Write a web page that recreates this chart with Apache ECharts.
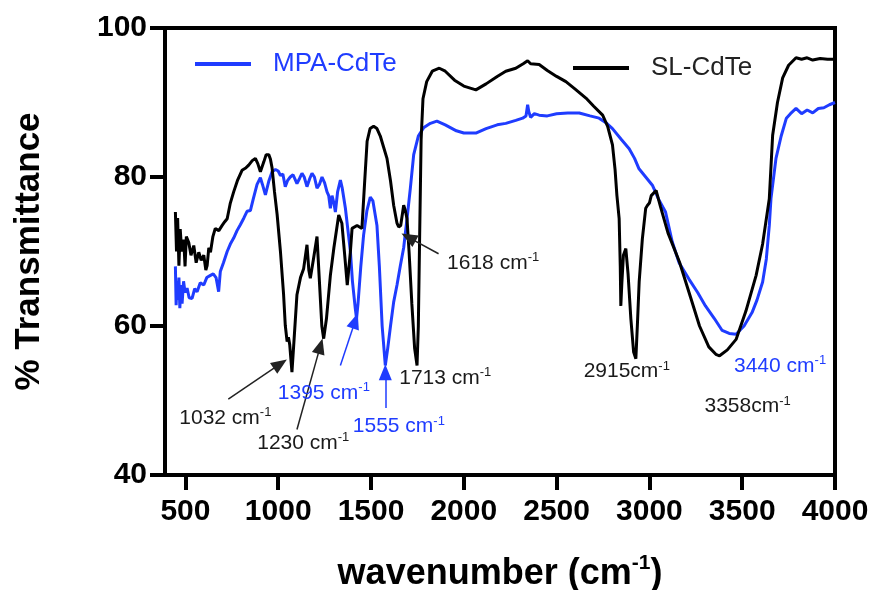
<!DOCTYPE html>
<html><head><meta charset="utf-8">
<script src="https://cdn.jsdelivr.net/npm/echarts@6/dist/echarts.min.js"></script>
<style>html,body{margin:0;padding:0;background:#fff}#c{width:874px;height:590px}</style>
</head><body><div id="c"></div>
<script>
// ---- data ----
const xTickValues = [500,1000,1500,2000,2500,3000,3500,4000];
const yTickValues = [40,60,80,100];
const seriesNames = ['MPA-CdTe','SL-CdTe'];

const mpaPoints = [[446,68],[450,62.8],[455,66],[460,63.5],[465,66.5],[470,62.4],[476,65.5],[482,63],[490,66],[498,64.5],[509,65.1],[520,63.8],[536,63.7],[550,65],[563,64.6],[580,65.8],[599,65.5],[615,66.5],[635,66.8],[650,67],[665,66.5],[679,64.6],[688,67.3],[705,68.5],[725,70.0],[742,71],[760,71.8],[778,72.8],[796,73.6],[815,74.5],[832,75.4],[850,75.5],[865,77],[886,79.0],[904,79.9],[915,79],[931,77.6],[950,79.5],[967,80.7],[985,81.0],[1000,80.8],[1012,80.2],[1025,80.4],[1038,78.7],[1050,79.5],[1065,80.0],[1080,80.3],[1101,79.1],[1115,79.8],[1128,80.5],[1140,80],[1155,78.7],[1170,79.8],[1182,80.5],[1195,80],[1209,78.5],[1222,79],[1236,80.0],[1250,79.2],[1263,78.0],[1272,77.5],[1281,75.8],[1290,77.5],[1300,76.5],[1308,75.3],[1320,78],[1335,79.6],[1345,78.5],[1362,75.8],[1375,73],[1389,70.0],[1400,66],[1415,62.4],[1422,61],[1430,63],[1445,68],[1460,72.2],[1478,75.5],[1496,77.3],[1510,76.8],[1532,73.5],[1545,68],[1560,60],[1577,54.7],[1590,57],[1605,60],[1622,63.2],[1640,65.5],[1658,68.1],[1676,70.5],[1694,74.4],[1712,78.5],[1730,83.0],[1755,85.5],[1783,86.6],[1820,87.2],[1855,87.5],[1900,87],[1960,86.2],[2000,85.9],[2065,85.9],[2120,86.5],[2180,87],[2226,87.2],[2280,87.6],[2317,87.9],[2335,88.2],[2344,89.7],[2350,88.8],[2360,88],[2380,88.5],[2406,88.3],[2450,88.2],[2500,88.5],[2560,88.6],[2622,88.6],[2680,88.2],[2729,87.9],[2770,87.2],[2801,86.5],[2850,85],[2891,83.8],[2920,82.5],[2944,81.1],[2980,80],[3016,78.9],[3050,77],[3087,75.3],[3123,71.3],[3160,68.5],[3213,66.3],[3260,64.5],[3302,62.7],[3350,61],[3392,59.4],[3430,59],[3467,58.9],[3510,60],[3553,61.8],[3580,63.5],[3610,65.9],[3630,69],[3646,73.5],[3655,77.1],[3682,82.5],[3710,85.5],[3738,87.9],[3760,88.5],[3790,89.2],[3820,88.5],[3850,89],[3880,88.6],[3910,89.2],[3940,89.3],[3970,89.7],[4000,90.0]];

const slPoints = [[446,75.3],[452,70],[458,74.5],[465,68.1],[472,73],[480,70],[491,71.6],[498,68],[505,72],[518,71.2],[530,69.5],[545,70.8],[558,68.5],[572,69.9],[585,68.8],[599,69.5],[610,67.5],[617,68.1],[626,70.5],[635,69.9],[648,72],[661,73.1],[680,72.8],[698,73.5],[712,74],[725,74.4],[742,76.5],[760,78.0],[780,79.5],[805,80.9],[825,81.2],[841,81.6],[860,82.2],[877,82.5],[890,81.8],[904,80.7],[915,81.5],[922,82],[935,83],[949,83.0],[958,82.4],[967,81.2],[980,78],[994,75.0],[1012,70],[1029,64.2],[1038,60.1],[1048,57.9],[1055,58.5],[1062,57.5],[1074,53.8],[1085,58],[1101,64.2],[1120,66.5],[1137,67.7],[1155,70.9],[1165,67.5],[1173,66.4],[1190,69],[1209,72.0],[1222,66],[1235,60],[1245,58.3],[1260,61],[1281,66.8],[1300,70.5],[1326,74.9],[1343,73.8],[1360,69],[1372,65.5],[1380,65.3],[1389,70],[1398,73.1],[1425,73.5],[1451,73.1],[1465,79],[1479,84.8],[1495,86.5],[1514,86.8],[1532,86.5],[1550,85.5],[1568,84],[1586,82.5],[1605,79.5],[1622,76.2],[1640,73.8],[1649,73.3],[1660,73.5],[1676,76.2],[1685,75.5],[1694,74.4],[1705,70],[1720,63],[1735,57],[1748,54.7],[1755,60],[1762,72],[1770,85],[1780,90.5],[1800,92.8],[1830,94.2],[1868,94.6],[1900,94.2],[1950,93],[2000,92.2],[2065,91.7],[2120,92.5],[2180,93.5],[2226,94.2],[2280,94.6],[2320,95.2],[2344,95.6],[2360,95.2],[2406,95.1],[2450,94.3],[2500,93.5],[2550,92.8],[2600,91.8],[2658,90.6],[2700,89.5],[2748,88.3],[2775,86.8],[2801,84.3],[2815,81],[2825,77.5],[2837,74.4],[2843,68],[2846,62.7],[2852,66],[2860,69.5],[2873,70.4],[2885,67],[2900,61],[2915,56.5],[2927,55.6],[2935,60],[2945,66],[2962,71.7],[2980,75.8],[2990,76.2],[3000,76.5],[3010,77.5],[3036,78.2],[3060,76],[3100,72.5],[3162,68.6],[3220,64],[3270,60.0],[3320,57.2],[3358,56.2],[3378,56.0],[3420,56.8],[3467,58.2],[3520,62],[3575,66.8],[3610,71],[3646,77.1],[3664,85.6],[3690,90],[3718,93.3],[3750,95],[3790,96.0],[3820,95.8],[3850,96],[3880,95.7],[3920,95.9],[3960,95.8],[4000,95.8]];

// peak annotations: label number, text anchor [wavenumber, %T], no-space flag
const slNotes  = [['1032',[715,47.6]],['1230',[1135,44.3]],['1713',[1900,53.0]],['1618',[2158,68.4]],['2915',[2878,53.9],true],['3358',[3529,49.2],true]];
const mpaNotes = [['1395',[1246,51.0]],['1555',[1650,46.5]],['3440',[3704,54.6]]];
// arrows: [from, to] in data units
const slArrows  = [[[731,50.2],[1011,54.9]],[[1101,46.1],[1227,57.3]],[[1864,69.7],[1702,71.9]]];
const mpaArrows = [[[1335,54.7],[1415,60.7]],[[1577,49.0],[1577,53.8]]];

// ---- chart ----
const BLUE = '#1f3cff', BLACK = '#000', TXT = '#1a1a1a';
const FONT = '"Liberation Sans", Arial, Helvetica, sans-serif';
const chart = echarts.init(document.getElementById('c'), null, {renderer:'canvas'});

function noteRich(color){
  return {
    a:{fontFamily:FONT,fontSize:21,color:color,lineHeight:24},
    s:{fontFamily:FONT,fontSize:13,color:color,lineHeight:14,verticalAlign:'top'}
  };
}
function notePoints(notes,color){
  return notes.map(n=>({
    coord:n[1], symbol:'circle', symbolSize:2, itemStyle:{color:'rgba(0,0,0,0)'},
    label:{show:true,position:'inside',
      formatter:'{a|'+n[0]+(n[2]?'':' ')+'cm}{s|-1}', rich:noteRich(color)}
  }));
}
function arrowLines(arrows){
  return arrows.map(a=>[{coord:a[0]},{coord:a[1]}]);
}

chart.setOption({
  animation:false,
  backgroundColor:'#fff',
  textStyle:{fontFamily:FONT},
  grid:{left:165,right:39,top:28,bottom:115,outerBoundsMode:'none',containLabel:false,
        show:true,borderColor:'#000',borderWidth:4,backgroundColor:'transparent'},
  legend:[
    {data:[{name:seriesNames[0],icon:'rect'}],left:190,top:46,itemWidth:56,itemHeight:4,
     textStyle:{fontFamily:FONT,fontSize:26,color:BLUE,padding:[0,0,0,17]}},
    {data:[{name:seriesNames[1],icon:'rect'}],left:568,top:50,itemWidth:56,itemHeight:4,
     textStyle:{fontFamily:FONT,fontSize:26,color:'#222',padding:[0,0,0,17]}}
  ],
  xAxis:{type:'value',min:390,max:4000,
    axisLine:{show:true,lineStyle:{color:'#000',width:4}},
    axisTick:{show:true,inside:false,length:15,lineStyle:{width:4,color:'#000'},customValues:xTickValues},
    axisLabel:{fontFamily:FONT,fontSize:30,fontWeight:'bold',color:'#000',margin:22,customValues:xTickValues,
      formatter:v=>String(v)},
    splitLine:{show:false},
    name:'{b|wavenumber (cm}{s|-1}{b|)}',nameLocation:'middle',nameGap:78,
    nameTextStyle:{rich:{
      b:{fontFamily:FONT,fontSize:36,fontWeight:'bold',color:'#000',lineHeight:42},
      s:{fontFamily:FONT,fontSize:21,fontWeight:'bold',color:'#000',lineHeight:22,verticalAlign:'top'}}}
  },
  yAxis:{type:'value',min:40,max:100,
    axisLine:{show:true,lineStyle:{color:'#000',width:4}},
    axisTick:{show:true,inside:false,length:15,lineStyle:{width:4,color:'#000'},customValues:yTickValues},
    axisLabel:{fontFamily:FONT,fontSize:30,fontWeight:'bold',color:'#000',margin:18,customValues:yTickValues,
      formatter:v=>String(v)},
    splitLine:{show:false},
    name:'% Transmittance',nameLocation:'middle',nameGap:118,
    nameTextStyle:{fontFamily:FONT,fontSize:35,fontWeight:'bold',color:'#000'}
  },
  series:[
    {name:seriesNames[0],type:'line',data:mpaPoints,symbol:'none',showSymbol:false,
     lineStyle:{color:BLUE,width:3},itemStyle:{color:BLUE},z:2,
     markPoint:{silent:true,data:notePoints(mpaNotes,BLUE)},
     markLine:{silent:true,symbol:['none','triangle'],symbolSize:[13,16],
       lineStyle:{color:BLUE,width:1.5,type:'solid'},label:{show:false},
       data:arrowLines(mpaArrows)}
    },
    {name:seriesNames[1],type:'line',data:slPoints,symbol:'none',showSymbol:false,
     lineStyle:{color:BLACK,width:3},itemStyle:{color:BLACK},z:3,
     markPoint:{silent:true,data:notePoints(slNotes,TXT)},
     markLine:{silent:true,symbol:['none','triangle'],symbolSize:[13,16],
       lineStyle:{color:'#222',width:1.5,type:'solid'},label:{show:false},
       data:arrowLines(slArrows)}
    }
  ]
});
</script></body></html>
